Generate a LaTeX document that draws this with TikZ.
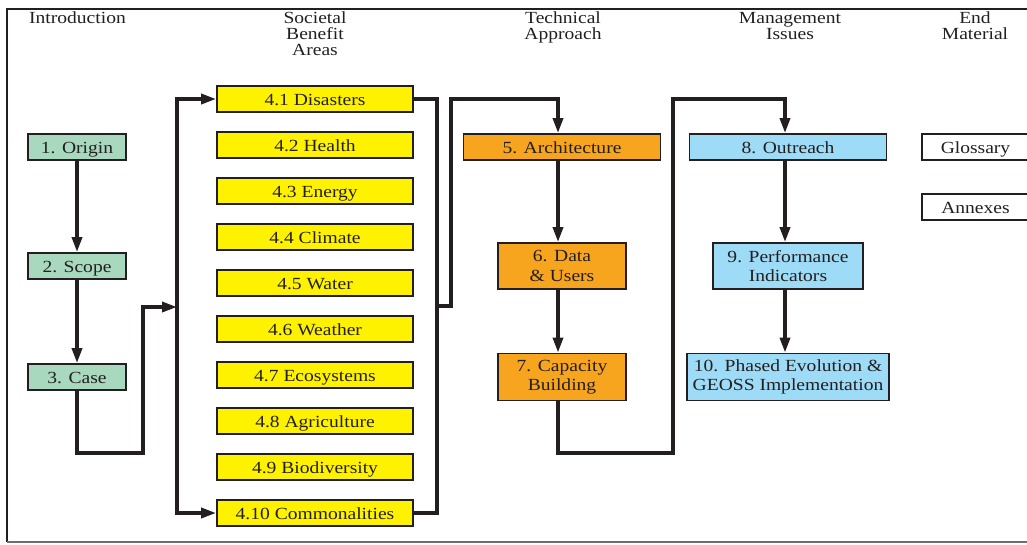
\documentclass[tikz,border=0pt]{standalone}
\usepackage{fontspec}
\setmainfont{Liberation Serif}[FakeStretch=1.15]
\usetikzlibrary{arrows.meta}
\definecolor{ink}{HTML}{231F20}
\definecolor{sage}{HTML}{A8D8BE}
\definecolor{lemon}{HTML}{FFF200}
\definecolor{amber}{HTML}{F7A51E}
\definecolor{sky}{HTML}{9EDBF6}
\definecolor{rule}{HTML}{6E6E6E}
\newcommand{\hdrfont}{\fontsize{17}{16}\selectfont}
\newcommand{\boxfont}{\fontsize{17}{19.5}\selectfont}
\begin{document}
\begin{tikzpicture}[x=1pt,y=-1pt,
  hdr/.style={anchor=north, inner sep=0pt, align=center, text=ink, font=\hdrfont},
  box/.style={draw=ink, line width=1.8pt, inner sep=0pt, text=ink, font=\boxfont, align=center},
  one/.style={text height=12pt, text depth=0pt},
  wide/.style={minimum width=196pt, minimum height=26pt},
  conn/.style={draw=ink, line width=3.4pt},
  arr/.style={conn, -{Triangle[length=15pt,width=10pt]}}]
\useasboundingbox (0,0) rectangle (1027,544);

% frame
\draw[ink, line width=2.2pt] (1032,9) -- (7,9) -- (7,542);
\draw[rule, line width=1.2pt] (7,542) -- (1032,542);

% column headings
\node[hdr] (hintro) at (77.5,12) {Introduction};
\node[hdr] (hsba)   at (315,12)  {Societal\\Benefit\\Areas};
\node[hdr] (htech)  at (563,12)  {Technical\\Approach};
\node[hdr] (hmgmt)  at (790,12)  {Management\\Issues};
\node[hdr] (hend)   at (975,12)  {End\\Material};

% introduction
\node[box, one, fill=sage, minimum width=98pt, minimum height=26pt] (origin) at (77,147) {1. Origin};
\node[box, one, fill=sage, minimum width=98pt, minimum height=26pt] (scope)  at (77,266) {2. Scope};
\node[box, one, fill=sage, minimum width=98pt, minimum height=26pt] (case)   at (77,377) {3. Case};

% societal benefit areas
\foreach \i/\t in {1/Disasters,2/Health,3/Energy,4/Climate,5/Water,6/Weather,
                   7/Ecosystems,8/Agriculture,9/Biodiversity,10/Commonalities}
  \node[box, one, fill=lemon, wide] (d\i) at (315,{99+46*(\i-1)}) {4.\i\ \t};

% technical approach
\node[box, one, fill=amber, minimum width=197pt, minimum height=26pt] (arch) at (562,147) {5. Architecture};
\node[box, fill=amber, minimum width=128pt, minimum height=46pt] (data) at (562,266) {6. Data\\\& Users};
\node[box, fill=amber, minimum width=128pt, minimum height=47pt] (cap)  at (562,377) {7. Capacity\\Building};

% management issues
\node[box, one, fill=sky, minimum width=197pt, minimum height=26pt] (outr) at (788,147) {8. Outreach};
\node[box, fill=sky, minimum width=150pt, minimum height=46pt] (perf) at (788,266) {9. Performance\\Indicators};
\node[box, fill=sky, minimum width=202pt, minimum height=47pt] (phase) at (788,377) {10. Phased Evolution \&\\GEOSS Implementation};

% end material
\node[box, one, fill=white, minimum width=107pt, minimum height=26pt] (gloss) at (975.5,147) {Glossary};
\node[box, one, fill=white, minimum width=107pt, minimum height=26pt] (annex) at (975.5,207) {Annexes};

% routing points
\coordinate (c1) at (143,453);
\coordinate (lm) at (177,307);
\coordinate (lb) at (177,513);
\coordinate (rb) at (437,513);
\coordinate (rm) at (437,306);
\coordinate (j1) at (451,306);
\coordinate (j2) at (558,99);
\coordinate (k1) at (673,453);
\coordinate (k2) at (785,99);

% introduction chain
\draw[arr] (origin) -- (scope);
\draw[arr] (scope) -- (case);
\draw[arr] (case.south) |- (c1) |- (lm);

% fan into and out of the benefit areas
\draw[arr] (lb) |- (d1.west);
\draw[arr, line cap=rect] (lb) -- (d10.west);
\draw[conn] (d1.east) -| (rb) -- (d10.east);
\draw[arr] (rm) -- (j1) |- (j2) -- (j2 |- arch.north);

% technical approach chain
\draw[arr] (j2 |- arch.south) -- (j2 |- data.north);
\draw[arr] (j2 |- data.south) -- (j2 |- cap.north);
\draw[arr] (j2 |- cap.south) |- (k1) |- (k2) -- (k2 |- outr.north);

% management chain
\draw[arr] (k2 |- outr.south) -- (k2 |- perf.north);
\draw[arr] (k2 |- perf.south) -- (k2 |- phase.north);
\end{tikzpicture}
\end{document}
